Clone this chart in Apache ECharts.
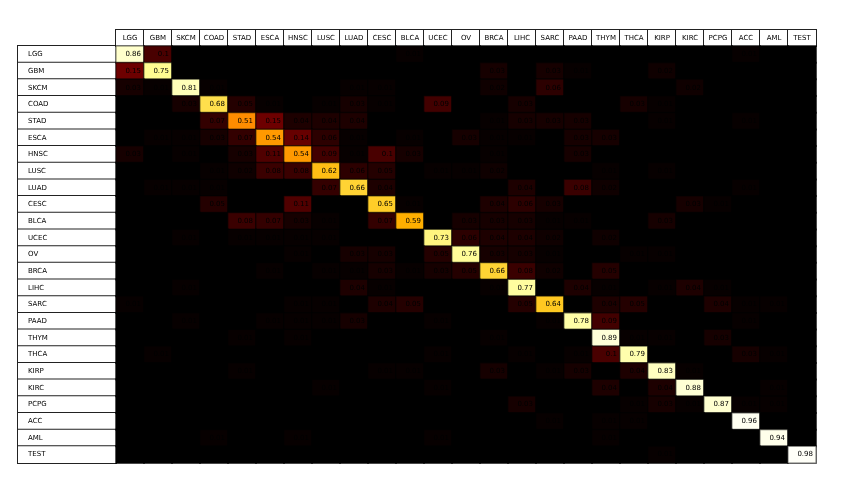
<!DOCTYPE html>
<html>
<head>
<meta charset="utf-8">
<script src="https://cdn.jsdelivr.net/npm/echarts@6/dist/echarts.min.js"></script>
<style>html,body{margin:0;padding:0;background:#fff;}#c{width:854px;height:490px;}</style>
</head>
<body>
<div id="c"></div>
<script>
// Categories (same order for predicted columns and true rows)
const categories = ['LGG','GBM','SKCM','COAD','STAD','ESCA','HNSC','LUSC','LUAD','CESC','BLCA','UCEC','OV','BRCA','LIHC','SARC','PAAD','THYM','THCA','KIRP','KIRC','PCPG','ACC','AML','TEST'];

// Confusion matrix rows (fraction per true class), columns in category order
const rowLGG  = [0.86,0.1,0,0,0,0,0,0,0,0,0.01,0,0,0,0,0,0,0,0,0,0,0,0.01,0,0];
const rowGBM  = [0.15,0.75,0,0,0,0,0,0,0,0,0,0,0,0.03,0,0.03,0.01,0,0,0.02,0,0,0,0,0];
const rowSKCM = [0.03,0.01,0.81,0.01,0,0,0,0,0.01,0.01,0,0,0,0.02,0,0.06,0,0,0,0,0.02,0,0,0,0];
const rowCOAD = [0,0,0.03,0.68,0.05,0.01,0,0.01,0.03,0.01,0,0.09,0,0,0.03,0,0,0,0.03,0.01,0,0,0,0,0];
const rowSTAD = [0,0,0,0.07,0.51,0.15,0.04,0.04,0.04,0,0,0,0,0.01,0.03,0.03,0.03,0,0,0.01,0,0,0.01,0,0];
const rowESCA = [0,0.01,0.01,0.03,0.07,0.54,0.14,0.06,0.01,0,0.01,0,0.03,0.01,0.01,0,0.03,0.03,0,0,0,0,0,0,0];
const rowHNSC = [0.03,0,0.01,0,0.03,0.11,0.54,0.09,0.01,0.1,0.03,0,0,0.01,0,0,0.03,0,0,0,0,0,0,0,0];
const rowLUSC = [0,0,0,0.01,0.02,0.08,0.08,0.62,0.06,0.05,0,0.01,0.01,0.02,0,0,0,0.01,0,0.01,0,0,0,0,0];
const rowLUAD = [0,0.01,0.01,0.01,0,0,0,0.07,0.66,0.04,0,0,0,0,0.04,0,0.08,0.02,0,0,0,0,0.01,0,0];
const rowCESC = [0,0,0,0.05,0,0,0.11,0,0,0.65,0.01,0,0,0.04,0.06,0.03,0,0,0,0,0.03,0.01,0,0,0];
const rowBLCA = [0,0,0,0,0.08,0.07,0.03,0.01,0,0.07,0.59,0,0.03,0.03,0.03,0.01,0.01,0,0,0.03,0,0,0,0,0];
const rowUCEC = [0,0,0.01,0,0.01,0.01,0.01,0.01,0,0,0,0.73,0.06,0.04,0.04,0.02,0,0.02,0,0,0,0,0,0,0];
const rowOV   = [0,0,0,0,0,0,0.01,0,0.03,0.03,0,0.05,0.76,0.03,0.03,0.01,0,0,0.01,0.01,0,0,0,0,0];
const rowBRCA = [0,0,0,0,0,0.01,0,0.01,0.01,0.03,0.01,0.03,0.05,0.66,0.08,0.02,0,0.05,0,0,0,0,0,0,0];
const rowLIHC = [0,0,0.01,0,0,0,0,0,0.04,0.01,0,0,0,0.01,0.77,0,0.04,0.01,0,0.01,0.04,0.01,0,0,0];
const rowSARC = [0.01,0,0,0,0,0,0.01,0.01,0,0.04,0.05,0,0,0,0.05,0.64,0,0.04,0.05,0,0,0.04,0.01,0.01,0];
const rowPAAD = [0,0,0.01,0,0,0.01,0.01,0.01,0.03,0,0,0.01,0,0,0,0.01,0.78,0.09,0,0,0,0,0.01,0,0];
const rowTHYM = [0,0,0,0,0.01,0,0.01,0,0,0,0,0,0,0.01,0,0,0,0.89,0.01,0.01,0,0.03,0,0,0];
const rowTHCA = [0,0.01,0,0,0,0,0,0,0,0,0,0.01,0,0,0.01,0,0.01,0.1,0.79,0,0,0,0.03,0.01,0];
const rowKIRP = [0,0,0,0,0.01,0,0,0,0,0.01,0.01,0,0,0.03,0,0.01,0.03,0,0.04,0.83,0.01,0,0,0,0];
const rowKIRC = [0,0,0,0,0,0,0,0.01,0,0,0,0.01,0,0,0,0,0,0.04,0,0.04,0.88,0,0,0.01,0];
const rowPCPG = [0,0,0,0,0,0,0,0,0,0,0,0,0,0,0.03,0,0,0,0.01,0.03,0.01,0.87,0.01,0.01,0];
const rowACC  = [0,0,0,0,0,0,0,0,0,0,0,0,0,0,0,0.01,0,0.01,0.01,0,0,0,0.96,0,0];
const rowAML  = [0,0,0,0.01,0,0,0.01,0,0,0,0,0.01,0,0,0,0,0,0.01,0,0,0,0,0,0.94,0];
const rowTEST = [0,0,0,0,0,0,0,0,0,0,0,0,0,0,0,0,0,0,0,0.01,0,0,0,0,0.98];

const matrixRows = [rowLGG,rowGBM,rowSKCM,rowCOAD,rowSTAD,rowESCA,rowHNSC,rowLUSC,rowLUAD,rowCESC,rowBLCA,rowUCEC,rowOV,rowBRCA,rowLIHC,rowSARC,rowPAAD,rowTHYM,rowTHCA,rowKIRP,rowKIRC,rowPCPG,rowACC,rowAML,rowTEST];

// Build heatmap data [col, row, value]
const heatData = [];
matrixRows.forEach((row, r) => row.forEach((v, c) => heatData.push([c, r, v])));

// colour ramp (hot-like)
const anchors = [
  [0, 0,0,0],[0.35,255,0,0],[0.45,255,100,0],[0.51,255,140,0],[0.59,255,175,0],
  [0.65,255,205,40],[0.70,255,235,100],[0.75,255,252,145],[0.80,255,255,180],
  [0.90,255,255,220],[1.0,255,255,255]
];
function rampColor(v){
  for (let i=1;i<anchors.length;i++){
    if (v <= anchors[i][0]){
      const a=anchors[i-1], b=anchors[i];
      const t=(v-a[0])/(b[0]-a[0]);
      const ch=k=>Math.round(a[k]+(b[k]-a[k])*t);
      return 'rgb('+ch(1)+','+ch(2)+','+ch(3)+')';
    }
  }
  return 'rgb(255,255,255)';
}
const rampStops = [];
for (let i=0;i<=100;i++) rampStops.push(rampColor(i/100));

const FONT = 'DejaVu Sans';
const nRows = categories.length;
const gridLeft = 116, gridTop = 46, gridW = 700, gridH = 417;
const cellW = gridW / nRows, cellH = gridH / nRows;

const chart = echarts.init(document.getElementById('c'), null, {renderer:'canvas'});
chart.setOption({
  animation: false,
  backgroundColor: '#fff',
  grid: {left: gridLeft, top: gridTop, width: gridW, height: gridH, show: true, backgroundColor: '#000', borderWidth: 1, borderColor: '#aaa'},
  xAxis: {
    type: 'category', data: categories, position: 'top',
    axisLine: {show:false}, axisTick: {show:false}, splitLine:{show:false},
    axisLabel: {
      interval: 0, margin: 0, fontFamily: FONT, fontSize: 7, color: '#000',
      backgroundColor: '#fff', borderColor: '#222', borderWidth: 1,
      width: cellW, height: 16, lineHeight: 16, align: 'center', verticalAlign: 'bottom'
    }
  },
  yAxis: {
    type: 'category', data: categories, inverse: true,
    axisLine: {show:false}, axisTick: {show:false}, splitLine:{show:false},
    axisLabel: {
      interval: 0, margin: 98, fontFamily: FONT, fontSize: 7, color: '#000',
      backgroundColor: '#fff', borderColor: '#222', borderWidth: 1,
      width: 88, height: cellH, lineHeight: cellH, align: 'left', verticalAlign: 'middle',
      padding: [0,0,0,10]
    }
  },
  visualMap: {show: false, min: 0, max: 1, dimension: 2, inRange: {color: rampStops}},
  series: [{
    type: 'heatmap', data: heatData,
    itemStyle: {borderColor: 'rgba(0,0,0,0.55)', borderWidth: 1.5},
    label: {
      show: true, position: 'insideRight', distance: 4,
      fontFamily: FONT, fontSize: 7, color: '#000',
      formatter: p => p.value[2] > 0 ? String(p.value[2]) : ''
    },
    emphasis: {disabled: true}
  }]
});
</script>
</body>
</html>
